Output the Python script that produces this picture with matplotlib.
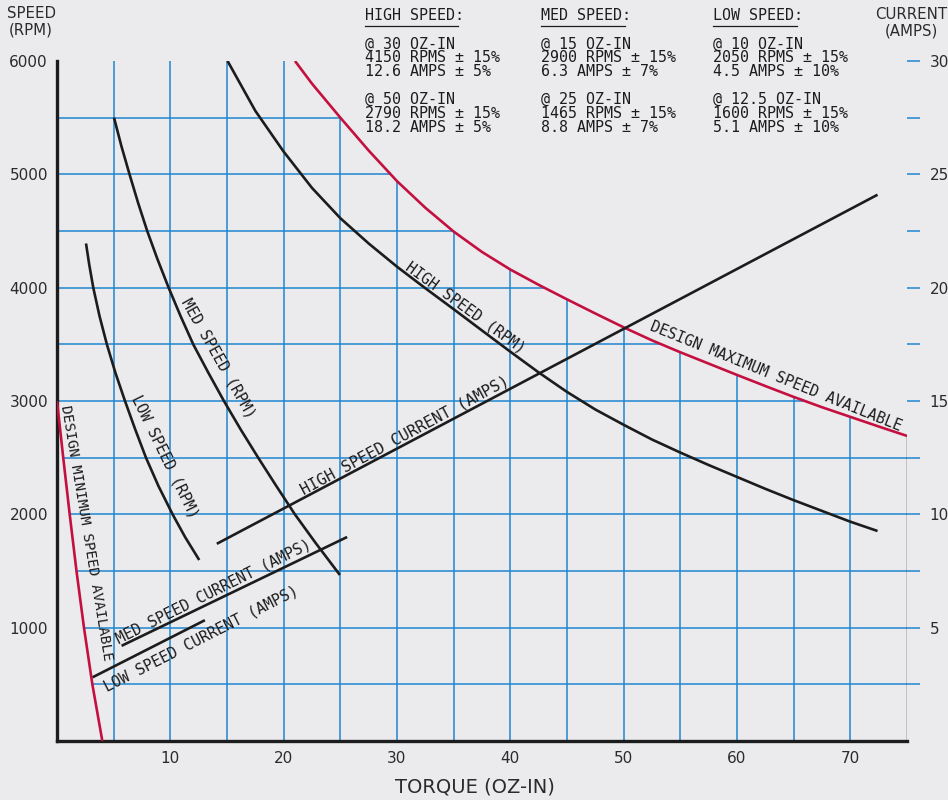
import matplotlib
matplotlib.use('Agg')
import matplotlib.pyplot as plt
from matplotlib.patches import Polygon
from matplotlib.lines import Line2D
import numpy as np

# ---------------- data ----------------
# torque (oz-in) vs speed (rpm)
high_x = [15.05, 17.5, 20, 22.5, 25, 27.5, 30, 32.5, 35, 37.5, 40, 42.5, 45, 47.5,
          50, 52.5, 55, 57.5, 60, 62.5, 65, 67.5, 70, 72.4]
high_rpm = [6000, 5560, 5200, 4880, 4613, 4390, 4185, 3995, 3810, 3622, 3435, 3252,
            3080, 2925, 2790, 2660, 2545, 2435, 2330, 2225, 2125, 2030, 1935, 1853]

med_x = [5.03, 5.68, 6.4, 7.15, 7.96, 8.87, 9.85, 10.9, 12.02, 13.35, 14.73, 16.2,
         17.75, 19.35, 20.99, 22.8, 24.96]
med_rpm = [5500, 5250, 5000, 4750, 4500, 4250, 4000, 3750, 3500, 3250, 3000, 2750,
           2500, 2250, 2000, 1750, 1465]

low_x = [2.56, 2.85, 3.2, 3.75, 4.4, 5.15, 6.0, 6.9, 7.85, 8.95, 10.2, 11.3, 12.55]
low_rpm = [4390, 4200, 4000, 3750, 3500, 3250, 3000, 2750, 2500, 2250, 2000, 1800, 1597]

max_x = [21.0, 22.5, 25, 27.5, 30, 32.5, 35, 37.5, 40, 42.5, 45, 47.5, 50, 52.5, 55,
         57.5, 60, 62.5, 65, 67.5, 70, 72.5, 75]
max_rpm = [6000, 5800, 5500, 5210, 4940, 4705, 4495, 4315, 4160, 4025, 3897, 3772,
           3650, 3535, 3430, 3330, 3230, 3132, 3036, 2945, 2860, 2775, 2692]

min_x = [0.0, 0.55, 1.12, 1.72, 2.38, 3.12, 4.0]
min_rpm = [3000, 2500, 2000, 1500, 1000, 500, 0]

# current (amps) lines: endpoints (torque, amps)
high_cur_x = [14.1, 72.4]
high_cur_a = [8.7, 24.1]
med_cur_x = [5.7, 25.6]
med_cur_a = [4.2, 9.0]
low_cur_x = [3.14, 13.05]
low_cur_a = [2.81, 5.33]

x_ticks = [10, 20, 30, 40, 50, 60, 70]
rpm_ticks = [1000, 2000, 3000, 4000, 5000, 6000]
amp_ticks = [5, 10, 15, 20, 25, 30]

header_cols = [
    ["HIGH SPEED:", "@ 30 OZ-IN", "4150 RPMS \u00b1 15%", "12.6 AMPS \u00b1 5%",
     "@ 50 OZ-IN", "2790 RPMS \u00b1 15%", "18.2 AMPS \u00b1 5%"],
    ["MED SPEED:", "@ 15 OZ-IN", "2900 RPMS \u00b1 15%", "6.3 AMPS \u00b1 7%",
     "@ 25 OZ-IN", "1465 RPMS \u00b1 15%", "8.8 AMPS \u00b1 7%"],
    ["LOW SPEED:", "@ 10 OZ-IN", "2050 RPMS \u00b1 15%", "4.5 AMPS \u00b1 10%",
     "@ 12.5 OZ-IN", "1600 RPMS \u00b1 15%", "5.1 AMPS \u00b1 10%"],
]

# ---------------- style ----------------
W, H = 948, 800
bg = '#ebebee'
blue = '#1f86d0'
red = '#c4103f'
blk = '#1c1c1c'
txt = '#2b2b2b'
cad = 'DejaVu Sans Mono'

fig = plt.figure(figsize=(W / 100, H / 100), dpi=100)
fig.patch.set_facecolor(bg)
ax = fig.add_axes([57 / W, 59 / H, 850 / W, 680 / H])
ax.set_facecolor(bg)
ax.set_xlim(0, 75)
ax.set_ylim(0, 6000)

# amps -> rpm scale for the current lines (30 A == 6000 rpm)
a2r = 6000 / 30.0

# clip region for grid: between min and max design speed curves
verts = [(0, 6000)] + list(zip(max_x, max_rpm)) + [(75, 0)] + \
    list(zip(min_x[::-1], min_rpm[::-1]))
clip = Polygon(verts, closed=True, transform=ax.transData, fc='none', ec='none')
ax.add_patch(clip)

for xv in np.arange(5, 75, 5):
    ln, = ax.plot([xv, xv], [0, 6000], color=blue, lw=1.1, zorder=1)
    ln.set_clip_path(clip)
for yv in np.arange(500, 6000, 500):
    ln, = ax.plot([0, 75], [yv, yv], color=blue, lw=1.1, zorder=1)
    ln.set_clip_path(clip)

# curves
ax.plot(max_x, max_rpm, color=red, lw=1.9, zorder=3, solid_capstyle='butt',
        solid_joinstyle='round')
ax.plot(min_x, min_rpm, color=red, lw=1.9, zorder=3, solid_capstyle='butt',
        solid_joinstyle='round')
ax.plot([75, 75], [0, max_rpm[-1]], color=blk, lw=1.0, zorder=3)
for xs, ys in [(high_x, high_rpm), (med_x, med_rpm), (low_x, low_rpm)]:
    ax.plot(xs, ys, color=blk, lw=1.9, zorder=4, solid_capstyle='butt',
            solid_joinstyle='round')
for xs, amps in [(high_cur_x, high_cur_a), (med_cur_x, med_cur_a), (low_cur_x, low_cur_a)]:
    ax.plot(xs, [a * a2r for a in amps], color=blk, lw=1.9, zorder=4, solid_capstyle='butt')

# spines & ticks
for s in ['top', 'right']:
    ax.spines[s].set_visible(False)
ax.spines['left'].set_linewidth(2.4)
ax.spines['bottom'].set_linewidth(2.4)
ax.spines['left'].set_color(blk)
ax.spines['bottom'].set_color(blk)
ax.set_xticks(x_ticks)
ax.set_xticklabels([str(v) for v in x_ticks])
ax.set_yticks(rpm_ticks)
ax.set_yticklabels([str(v) for v in rpm_ticks])
ax.tick_params(axis='x', length=0, pad=7.5, labelsize=11, labelcolor=txt)
ax.tick_params(axis='y', length=0, pad=6.5, labelsize=11, labelcolor=txt)

ax2 = ax.twinx()
ax2.set_ylim(0, 30)
ax2.set_yticks(amp_ticks)
ax2.set_yticklabels([str(v) for v in amp_ticks])
ax2.set_yticks(np.arange(2.5, 30, 5), minor=True)
ax2.tick_params(which='both', axis='y', direction='out', length=9.4, width=1.1,
                color=blue, pad=7, labelsize=11, labelcolor=txt)
for s in ax2.spines.values():
    s.set_visible(False)

# axis titles
fig.text(31 / W, 1 - 22 / H, "SPEED\n(RPM)", ha='center', va='center',
         fontsize=10.8, color=txt, linespacing=1.1)
fig.text(911 / W, 1 - 23 / H, "CURRENT\n(AMPS)", ha='center', va='center',
         fontsize=10.8, color=txt, linespacing=1.1)
fig.text(475 / W, 1 - 787 / H, "TORQUE (OZ-IN)", ha='center', va='center',
         fontsize=14, color=txt)

# header table
col_x = [365, 541, 713]
row_y = [16, 44, 58, 72, 99, 114, 128]
for cx, lines in zip(col_x, header_cols):
    for ry, s in zip(row_y, lines):
        fig.text(cx / W, 1 - ry / H, s, ha='left', va='center', fontsize=10.8,
                 family=cad, color=blk)
    wpx = len(lines[0]) * 0.602 * 10.8 * 100 / 72
    fig.add_artist(Line2D([cx / W, (cx + wpx - 6) / W], [1 - 26 / H, 1 - 26 / H],
                          color=blk, lw=0.9))

# curve labels
def lab(s, x, y, rot, size=10.8):
    ax.text(x, y, s, rotation=rot, rotation_mode='anchor', ha='center', va='center',
            fontsize=size, family=cad, color=blk, zorder=5)

lab("HIGH SPEED (RPM)", 36.07, 3822, -36)
lab("MED SPEED (RPM)", 14.2, 3380, -60.5)
lab("LOW SPEED (RPM)", 9.52, 2509, -64)
lab("HIGH SPEED CURRENT (AMPS)", 30.7, 2701, 28.3, 11.2)
lab("MED SPEED CURRENT (AMPS)", 13.85, 1315, 26.5)
lab("LOW SPEED CURRENT (AMPS)", 12.7, 905, 27)
lab("DESIGN MAXIMUM SPEED AVAILABLE", 63.46, 3215, -22)
lab("DESIGN MINIMUM SPEED AVAILABLE", 2.55, 1840, -80.5, 10.3)

fig.savefig('out.png', dpi=100, facecolor=bg)
